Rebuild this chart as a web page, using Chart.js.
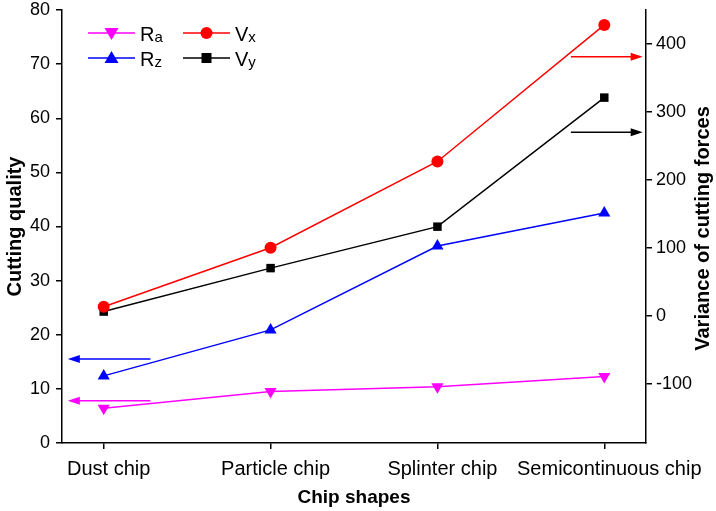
<!DOCTYPE html>
<html>
<head>
<meta charset="utf-8">
<script src="https://cdn.jsdelivr.net/npm/chart.js@4"></script>
<style>
  body { margin: 0; background: #fff; }
  #wrap { width: 716px; height: 511px; }
</style>
</head>
<body>
<div id="wrap"><canvas id="myChart" width="716" height="511"></canvas></div>
<script>
// chip shapes along the bottom
const chipShapes = ['Dust chip', 'Particle chip', 'Splinter chip', 'Semicontinuous chip'];
// cutting quality (left axis)
const Ra = [6.4, 9.5, 10.4, 12.3];
const Rz = [12.4, 20.9, 36.4, 42.5];
// variance of cutting forces (right axis)
const Vx = [13, 100, 227, 428];
const Vy = [6, 70, 131, 321];
// tick labels
const leftTicks = [0, 10, 20, 30, 40, 50, 60, 70, 80];
const rightTicks = [-100, 0, 100, 200, 300, 400];

// arrows pointing each series to its axis
const arrows = [
  { axis: 'y', value: 15.5, from: 0.28, to: -0.215, color: '#0000ff' },
  { axis: 'y', value: 7.8, from: 0.28, to: -0.215, color: '#ff00ff' },
  { axis: 'y1', value: 381, from: 2.80, to: 3.23, color: '#ff0000' },
  { axis: 'y1', value: 270, from: 2.80, to: 3.23, color: '#000000' }
];

const FONT = "Arial, 'Liberation Sans', sans-serif";

function pts(arr) {
  return arr.map((v, i) => ({ x: i, y: v }));
}

function drawMarker(ctx, style, x, y, color) {
  ctx.save();
  ctx.fillStyle = color;
  ctx.beginPath();
  if (style == 'circle') {
    ctx.arc(x, y, 6, 0, Math.PI * 2);
  } else if (style == 'rect') {
    ctx.rect(x - 5, y - 5, 10, 10);
  } else if (style == 'up') {
    ctx.moveTo(x, y - 7);
    ctx.lineTo(x + 7, y + 5);
    ctx.lineTo(x - 7, y + 5);
  } else {
    ctx.moveTo(x, y + 7);
    ctx.lineTo(x + 7, y - 5);
    ctx.lineTo(x - 7, y - 5);
  }
  ctx.closePath();
  ctx.fill();
  ctx.restore();
}

// legend in two columns inside the plot
const legendPlugin = {
  id: 'boxLegend',
  afterDraw(chart) {
    const ctx = chart.ctx;
    const a = chart.chartArea;
    const items = [
      { main: 'R', sub: 'a', color: '#ff00ff', style: 'down', col: 0, row: 0 },
      { main: 'R', sub: 'z', color: '#0000ff', style: 'up', col: 0, row: 1 },
      { main: 'V', sub: 'x', color: '#ff0000', style: 'circle', col: 1, row: 0 },
      { main: 'V', sub: 'y', color: '#000000', style: 'rect', col: 1, row: 1 }
    ];
    items.forEach(it => {
      const x0 = a.left + 26 + it.col * 95;
      const y = a.top + 23 + it.row * 25;
      ctx.save();
      ctx.strokeStyle = it.color;
      ctx.lineWidth = 1.5;
      ctx.beginPath();
      ctx.moveTo(x0, y);
      ctx.lineTo(x0 + 47, y);
      ctx.stroke();
      ctx.restore();
      drawMarker(ctx, it.style, x0 + 23.5, y, it.color);
      ctx.save();
      ctx.fillStyle = '#000';
      ctx.textBaseline = 'alphabetic';
      ctx.font = '20px ' + FONT;
      ctx.fillText(it.main, x0 + 52, y + 8);
      const w = ctx.measureText(it.main).width;
      ctx.font = '15px ' + FONT;
      ctx.fillText(it.sub, x0 + 52 + w, y + 9);
      ctx.restore();
    });
  }
};

const arrowPlugin = {
  id: 'arrows',
  afterDatasetsDraw(chart) {
    const ctx = chart.ctx;
    const xs = chart.scales.x;
    arrows.forEach(ar => {
      const y = chart.scales[ar.axis].getPixelForValue(ar.value);
      const x1 = xs.getPixelForValue(ar.from);
      const x2 = xs.getPixelForValue(ar.to);
      const dir = x2 > x1 ? 1 : -1;
      ctx.save();
      ctx.strokeStyle = ar.color;
      ctx.fillStyle = ar.color;
      ctx.lineWidth = 1.5;
      ctx.beginPath();
      ctx.moveTo(x1, y);
      ctx.lineTo(x2 - dir * 8, y);
      ctx.stroke();
      ctx.beginPath();
      ctx.moveTo(x2, y);
      ctx.lineTo(x2 - dir * 12, y - 4);
      ctx.lineTo(x2 - dir * 12, y + 4);
      ctx.closePath();
      ctx.fill();
      ctx.restore();
    });
  }
};

// right axis title, read bottom to top like the left one
const rightTitle = {
  id: 'rightTitle',
  afterDraw(chart) {
    const ctx = chart.ctx;
    const a = chart.chartArea;
    ctx.save();
    ctx.translate(703, (a.top + a.bottom) / 2 + 2);
    ctx.rotate(-Math.PI / 2);
    ctx.fillStyle = '#000';
    ctx.font = 'bold 20px ' + FONT;
    ctx.textAlign = 'center';
    ctx.textBaseline = 'middle';
    ctx.fillText('Variance of cutting forces', 0, 0);
    ctx.restore();
  }
};

function series(label, data, color, style, rot, radius, axis) {
  return {
    label: label,
    data: pts(data),
    yAxisID: axis,
    borderColor: color,
    backgroundColor: color,
    borderWidth: 1.5,
    pointStyle: style,
    pointRotation: rot,
    pointRadius: radius,
    pointBorderWidth: 0,
    pointHoverRadius: radius,
    tension: 0
  };
}

// keep label overflow from pushing the plot area around
function noOverflow(s) {
  s.paddingTop = 0;
  s.paddingBottom = 0;
  s.paddingLeft = 0;
  s.paddingRight = 0;
}

const axisLine = { display: true, color: '#000', width: 1.5 };
const tickGrid = { display: true, drawOnChartArea: false, drawTicks: true, tickLength: 6, color: '#000', lineWidth: 1.5 };

let ctx = document.getElementById('myChart');
let myChart = new Chart(ctx, {
  type: 'line',
  data: {
    datasets: [
      series('Ra', Ra, '#ff00ff', 'triangle', 180, 7, 'y'),
      series('Rz', Rz, '#0000ff', 'triangle', 0, 7, 'y'),
      series('Vx', Vx, '#ff0000', 'circle', 0, 6, 'y1'),
      series('Vy', Vy, '#000000', 'rect', 0, 6, 'y1')
    ]
  },
  options: {
    responsive: false,
    animation: false,
    clip: false,
    layout: { padding: { top: 10, right: 0, left: 0, bottom: 0 } },
    plugins: {
      legend: { display: false },
      tooltip: { enabled: false }
    },
    scales: {
      x: {
        type: 'linear',
        position: 'bottom',
        min: -0.25,
        max: 3.25,
        afterBuildTicks: s => { s.ticks = chipShapes.map((_, i) => ({ value: i })); },
        afterFit: s => { s.height = 68; noOverflow(s); },
        ticks: {
          callback: v => chipShapes[v],
          color: '#000',
          font: { family: FONT, size: 20 },
          maxRotation: 0,
          autoSkip: false,
          labelOffset: 5,
          padding: 8
        },
        grid: tickGrid,
        border: axisLine,
        title: {
          display: true,
          text: 'Chip shapes',
          color: '#000',
          font: { family: FONT, size: 19, weight: 'bold' },
          padding: { top: 4, bottom: 2 }
        }
      },
      y: {
        position: 'left',
        min: 0,
        max: 80,
        afterBuildTicks: s => { s.ticks = leftTicks.map(v => ({ value: v })); },
        afterFit: s => { s.width = 62; noOverflow(s); },
        ticks: {
          color: '#000',
          font: { family: FONT, size: 18 },
          padding: 6
        },
        grid: tickGrid,
        border: axisLine,
        title: {
          display: true,
          text: 'Cutting quality',
          color: '#000',
          font: { family: FONT, size: 20, weight: 'bold' },
          padding: { top: 3, bottom: 0 }
        }
      },
      y1: {
        position: 'right',
        min: -187.5,
        max: 450,
        afterBuildTicks: s => { s.ticks = rightTicks.map(v => ({ value: v })); },
        afterFit: s => { s.width = 70; noOverflow(s); },
        ticks: {
          color: '#000',
          font: { family: FONT, size: 18 },
          padding: 4
        },
        grid: tickGrid,
        border: axisLine,
        title: { display: false }
      }
    }
  },
  plugins: [arrowPlugin, legendPlugin, rightTitle]
});
</script>
</body>
</html>
